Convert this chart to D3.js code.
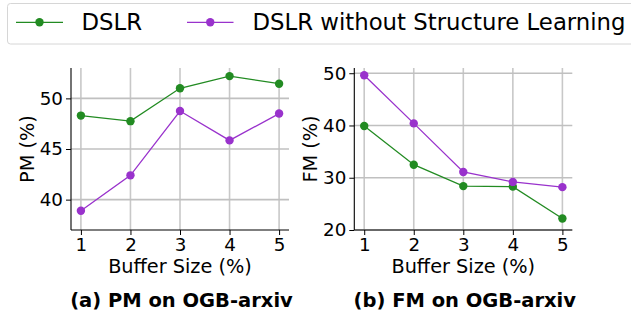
<!DOCTYPE html>
<html>
<head>
<meta charset="utf-8">
<script src="https://cdn.jsdelivr.net/npm/d3@7"></script>
<style>
  html, body { margin: 0; padding: 0; background: #fff; }
  svg { display: block; font-family: "DejaVu Sans", sans-serif; }
</style>
</head>
<body>
<svg id="chart" width="631" height="314"></svg>
<script>
const bufferSizes = [1, 2, 3, 4, 5];
const xTicks = [1, 2, 3, 4, 5];
const seriesNames = ["DSLR", "DSLR without Structure Learning"];
const seriesColors = ["#228B22", "#9932CC"];

const pmDSLR = [48.3, 47.75, 51.0, 52.2, 51.45];
const pmNoSL = [38.9, 42.4, 48.75, 45.85, 48.5];
const pmTicks = [40, 45, 50];

const fmDSLR = [39.9, 32.5, 28.4, 28.3, 22.2];
const fmNoSL = [49.6, 40.4, 31.1, 29.2, 28.2];
const fmTicks = [20, 30, 40, 50];

const panels = [
  { left: 71, right: 289, yDomain: [37, 53], ticks: pmTicks, series: [pmDSLR, pmNoSL],
    ylabel: "PM (%)", ylabelX: 27, title: "(a) PM on OGB-arxiv" },
  { left: 354.3, right: 572.3, yDomain: [20, 51], ticks: fmTicks, series: [fmDSLR, fmNoSL],
    ylabel: "FM (%)", ylabelX: 310, title: "(b) FM on OGB-arxiv" }
];

const svg = d3.select("#chart");
const plotTop = 68, plotBottom = 230;

panels.forEach(p => {
  const x = d3.scaleLinear().domain([0.8, 5.2]).range([p.left, p.right]);
  const y = d3.scaleLinear().domain(p.yDomain).range([plotBottom, plotTop]);
  const g = svg.append("g");

  // grid
  g.selectAll(".vg").data(xTicks).join("line")
    .attr("x1", d => x(d)).attr("x2", d => x(d)).attr("y1", plotTop).attr("y2", plotBottom)
    .attr("stroke", "#c8c8c8").attr("stroke-width", 1.6);
  g.selectAll(".hg").data(p.ticks).join("line")
    .attr("x1", p.left).attr("x2", p.right).attr("y1", d => y(d)).attr("y2", d => y(d))
    .attr("stroke", "#c0c0c0").attr("stroke-width", 1.6);

  // axes
  const xAxis = d3.axisBottom(x).tickValues(xTicks).tickFormat(d3.format("d"))
    .tickSize(5).tickPadding(3).tickSizeOuter(0);
  const yAxis = d3.axisLeft(y).tickValues(p.ticks).tickFormat(d3.format("d"))
    .tickSize(5).tickPadding(3).tickSizeOuter(0);
  const gx = g.append("g").attr("transform", `translate(0,${plotBottom})`).call(xAxis);
  const gy = g.append("g").attr("transform", `translate(${p.left},0)`).call(yAxis);
  [gx, gy].forEach(a => {
    a.select(".domain").attr("stroke", "#000").attr("stroke-width", 1.1);
    a.selectAll(".tick line").attr("stroke", "#000").attr("stroke-width", 1);
    a.selectAll(".tick text").attr("font-family", "DejaVu Sans").attr("font-size", 18.3).attr("fill", "#000");
  });
  gy.select(".domain").attr("d", `M0,${plotBottom}V${plotTop}`);
  gx.select(".domain").attr("d", `M${p.left},0H${p.right}`);

  // labels
  g.append("text").attr("x", (p.left + p.right) / 2).attr("y", 273)
    .attr("text-anchor", "middle").attr("font-size", 19.3).text("Buffer Size (%)");
  g.append("text").attr("transform", `translate(${p.ylabelX},${(plotTop + plotBottom) / 2}) rotate(-90)`)
    .attr("text-anchor", "middle").attr("dominant-baseline", "central")
    .attr("font-size", 19.3).text(p.ylabel);
  g.append("text").attr("x", (p.left + p.right) / 2 + 1.5).attr("y", 306.5)
    .attr("text-anchor", "middle").attr("font-size", 19.5).attr("font-weight", "bold").text(p.title);

  // series
  p.series.forEach((vals, i) => {
    const line = d3.line().x((d, j) => x(bufferSizes[j])).y(d => y(d));
    g.append("path").datum(vals).attr("d", line).attr("fill", "none")
      .attr("stroke", seriesColors[i]).attr("stroke-width", 1.3);
    g.selectAll(".m" + i).data(vals).join("circle")
      .attr("cx", (d, j) => x(bufferSizes[j])).attr("cy", d => y(d)).attr("r", 4.2)
      .attr("fill", seriesColors[i]);
  });
});

// legend
const lg = svg.append("g");
lg.append("rect").attr("x", 7.5).attr("y", 3.5).attr("width", 640).attr("height", 40.5)
  .attr("rx", 3).attr("fill", "#fff").attr("stroke", "#d6d6d6").attr("stroke-width", 1);
const legendItems = [
  { x1: 16, x2: 63, tx: 81.5 },
  { x1: 187, x2: 233.5, tx: 252.5 }
];
legendItems.forEach((it, i) => {
  lg.append("line").attr("x1", it.x1).attr("x2", it.x2).attr("y1", 22.3).attr("y2", 22.3)
    .attr("stroke", seriesColors[i]).attr("stroke-width", 1.3);
  lg.append("circle").attr("cx", (it.x1 + it.x2) / 2).attr("cy", 22.3).attr("r", 4.2)
    .attr("fill", seriesColors[i]);
  lg.append("text").attr("x", it.tx).attr("y", 30).attr("font-size", 22.8).text(seriesNames[i]);
});
</script>
</body>
</html>
